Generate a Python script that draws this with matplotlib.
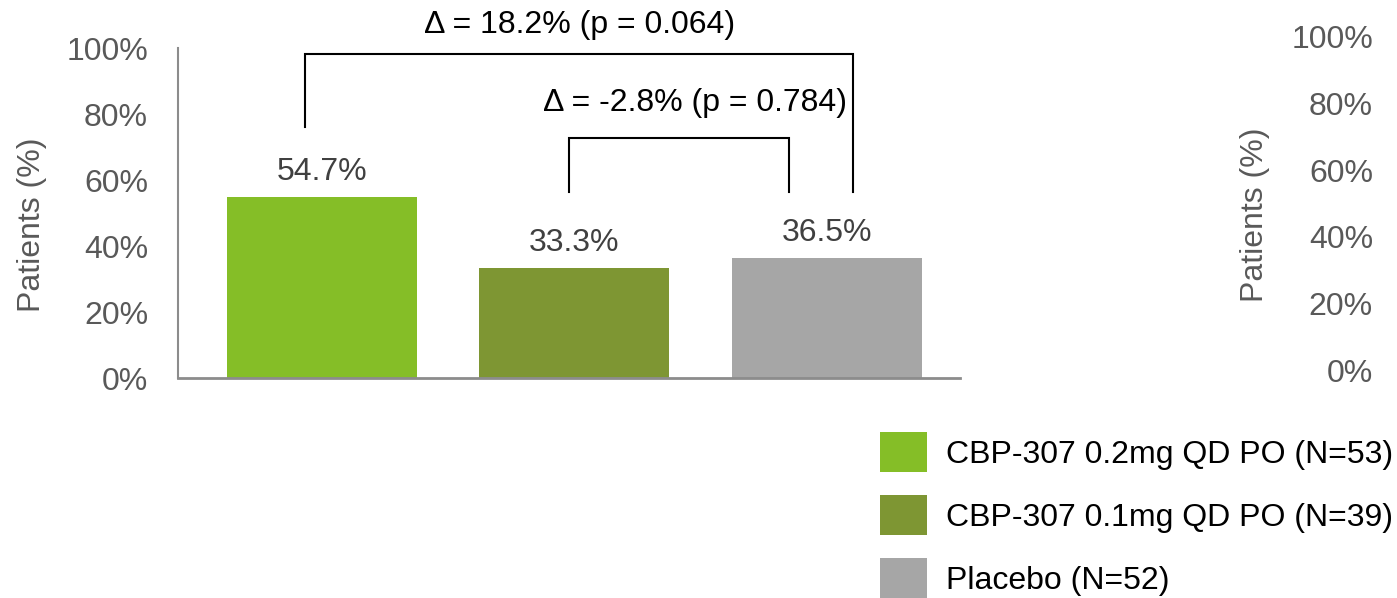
import matplotlib
matplotlib.use("Agg")
import matplotlib.pyplot as plt
from matplotlib.patches import Patch
import matplotlib.ticker as ticker

plt.rcParams.update({
    "font.family": ["Liberation Sans", "DejaVu Sans"],
    "font.size": 23,
})

groups = ["CBP-307 0.2mg QD PO (N=53)", "CBP-307 0.1mg QD PO (N=39)", "Placebo (N=52)"]
values = [0.547, 0.333, 0.365]
value_labels = ["54.7%", "33.3%", "36.5%"]
colors = ["#85BE27", "#7E9633", "#A6A6A6"]
yticks = [0, 0.2, 0.4, 0.6, 0.8, 1.0]

TICK_C = "#595959"
SPINE_C = "#8C8C8C"
FS = 23

fig = plt.figure(figsize=(13.97, 5.98), dpi=100)

# main axes
ax = fig.add_axes([178/1397, 1 - 378/598, 782/1397, 330/598])
x = range(len(values))
ax.bar(x, values, width=0.752, color=colors, zorder=1)
ax.set_xlim(-0.57, 2.527)
ax.set_ylim(0, 1)
ax.set_yticks(yticks)
ax.yaxis.set_major_formatter(ticker.PercentFormatter(1.0, decimals=0))
ax.tick_params(axis="y", length=0, pad=21.6, colors=TICK_C, labelsize=FS)
ax.set_xticks([])
for s in ["top", "right"]:
    ax.spines[s].set_visible(False)
ax.spines["left"].set_color(SPINE_C)
ax.spines["left"].set_linewidth(1.5)
ax.spines["bottom"].set_color(SPINE_C)
ax.spines["bottom"].set_linewidth(2)
ax.spines["bottom"].set_zorder(3)
fig.text(32/1397, 1 - 225/598, "Patients (%)", rotation=90, ha="center",
         va="center", color=TICK_C, fontsize=FS)

for i, (v, lab) in enumerate(zip(values, value_labels)):
    ax.annotate(lab, (i, v), xytext=(0, 18), textcoords="offset points",
                ha="center", va="center", color="#404040", fontsize=FS)

# comparison brackets
lw = 1.5
ax.plot([-0.067, -0.067, 2.103, 2.103], [0.761, 0.982, 0.982, 0.564],
        color="black", lw=lw, clip_on=False, solid_joinstyle="miter")
ax.text(1.02, 1.07, "\u0394 = 18.2% (p = 0.064)", ha="center", va="center",
        color="black", fontsize=FS, clip_on=False)
ax.plot([0.978, 0.978, 1.85, 1.85], [0.564, 0.727, 0.727, 0.564],
        color="black", lw=lw, clip_on=False, solid_joinstyle="miter")
ax.text(1.477, 0.833, "\u0394 = -2.8% (p = 0.784)", ha="center", va="center",
        color="black", fontsize=FS)

# right-hand empty axis
ax2 = fig.add_axes([1373/1397, 1 - 370/598, 0.001, 333/598])
ax2.set_ylim(0, 1)
ax2.set_yticks(yticks)
ax2.yaxis.set_major_formatter(ticker.PercentFormatter(1.0, decimals=0))
ax2.tick_params(axis="y", length=0, pad=0, colors=TICK_C, labelsize=FS)
ax2.set_xticks([])
for s in ax2.spines.values():
    s.set_visible(False)
ax2.patch.set_visible(False)
fig.text(1255/1397, 1 - 215/598, "Patients (%)", rotation=90, ha="center",
         va="center", color=TICK_C, fontsize=FS)

# legend
handles = [Patch(facecolor=c, edgecolor="none") for c in colors]
fig.legend(handles, groups, loc="upper left",
           bbox_to_anchor=(880/1397, 1 - 432/598), frameon=False,
           borderpad=0, borderaxespad=0, handlelength=1.47, handleheight=1.55,
           handletextpad=0.6, labelspacing=0.72, fontsize=FS, labelcolor="black")

fig.savefig("out.png", dpi=100)
